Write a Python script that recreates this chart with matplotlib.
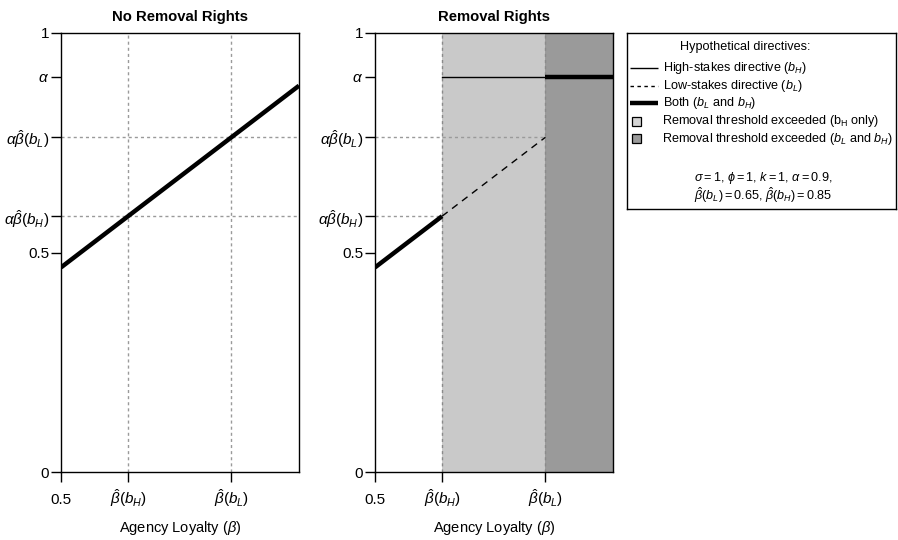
import numpy as np
import matplotlib
matplotlib.use("Agg")
import matplotlib.pyplot as plt
from matplotlib.patches import Rectangle

plt.rcParams['font.family'] = ['Liberation Sans', 'DejaVu Sans']
plt.rcParams['mathtext.fontset'] = 'custom'
plt.rcParams['mathtext.rm'] = 'Liberation Sans'
plt.rcParams['mathtext.it'] = 'Liberation Sans:italic'
plt.rcParams['mathtext.bf'] = 'Liberation Sans:bold'

# ---- data ----
alpha = 0.9
beta_lo = 0.5            # left end of x axis
beta_hi = 1.0            # right end of x axis
beta_hat_H = 0.641       # position of beta-hat(b_H) on x axis
beta_hat_L = 0.858       # position of beta-hat(b_L) on x axis
line_x = [0.5, 1.0]      # loyalty line endpoints
line_y = [0.466, 0.880]
ab_H = 0.583             # alpha*beta-hat(b_H)
ab_L = 0.763             # alpha*beta-hat(b_L)

x_ticks = [0.5, beta_hat_H, beta_hat_L]
x_ticklabels = ["0.5", r"$\hat{\beta}(b_H)$", r"$\hat{\beta}(b_L)$"]
y_ticks = [0, 0.5, ab_H, ab_L, alpha, 1]
y_ticklabels = ["0", "0.5", r"$\alpha\hat{\beta}(b_H)$", r"$\alpha\hat{\beta}(b_L)$",
                r"$\alpha$", "1"]

titles = ["No Removal Rights", "Removal Rights"]
xlabel = r"Agency Loyalty ($\beta$)"

light_gray = "#c9c9c9"
dark_gray = "#9a9a9a"
dot_color = "#9a9a9a"
dotted = (0, (2.2, 2.2))

W, H = 898, 540
fig = plt.figure(figsize=(W / 100, H / 100), dpi=100)

def px_axes(x0, y0, x1, y1):
    return fig.add_axes([x0 / W, 1 - y1 / H, (x1 - x0) / W, (y1 - y0) / H])

ax1 = px_axes(61, 33, 299, 472)
ax2 = px_axes(375, 33, 613, 472)

for ax, t in zip([ax1, ax2], titles):
    ax.set_xlim(beta_lo, beta_hi)
    ax.set_ylim(0, 1)
    ax.set_xticks(x_ticks)
    ax.set_xticklabels(x_ticklabels, fontsize=11)
    ax.set_yticks(y_ticks)
    ax.set_yticklabels(y_ticklabels, fontsize=11)
    ax.tick_params(axis='both', direction='out', length=7, width=1, pad=1.5)
    ax.tick_params(axis='x', pad=16)
    for lab in ax.get_xticklabels():
        lab.set_va('baseline')
    for s in ax.spines.values():
        s.set_linewidth(1.0)
    ax.set_title(t, fontsize=10.7, fontweight='bold', pad=9)
    ax.set_xlabel(xlabel, fontsize=10.5)
    ax.xaxis.set_label_coords(0.5, -0.127)
    ax.xaxis.label.set_va('center')

# ---- left panel ----
for xv in [beta_hat_H, beta_hat_L]:
    ax1.axvline(xv, color=dot_color, lw=1, ls=dotted, zorder=1)
for yv in [ab_H, ab_L]:
    ax1.axhline(yv, color=dot_color, lw=1, ls=dotted, zorder=1)
ax1.plot(line_x, line_y, color='black', lw=3.2, solid_capstyle='butt', zorder=3)

# ---- right panel ----
ax2.axvspan(beta_hat_H, beta_hat_L, color=light_gray, lw=0, zorder=0)
ax2.axvspan(beta_hat_L, beta_hi, color=dark_gray, lw=0, zorder=0)
for xv in [beta_hat_H, beta_hat_L]:
    ax2.axvline(xv, color="#8a8a8a", lw=1, ls=dotted, zorder=1)
ax2.plot([beta_lo, beta_hat_L], [ab_L, ab_L], color=dot_color, lw=1, ls=dotted, zorder=1)
ax2.plot([beta_lo, beta_hat_H], [ab_H, ab_H], color=dot_color, lw=1, ls=dotted, zorder=1)

seg1_x = [line_x[0], beta_hat_H]
seg1_y = list(np.interp(seg1_x, line_x, line_y))
seg2_x = [beta_hat_H, beta_hat_L]
seg2_y = list(np.interp(seg2_x, line_x, line_y))
ax2.plot(seg1_x, seg1_y, color='black', lw=3.2, solid_capstyle='butt', zorder=3)
ax2.plot(seg2_x, seg2_y, color='black', lw=1.0, ls=(0, (5, 4)), zorder=3)
ax2.plot([beta_hat_H, beta_hat_L], [alpha, alpha], color='black', lw=1.0, zorder=3)
ax2.plot([beta_hat_L, beta_hi], [alpha, alpha], color='black', lw=3.2,
         solid_capstyle='butt', zorder=3)

# ---- legend box ----
lg = px_axes(627, 33, 896, 209)
lg.set_xlim(0, 1)
lg.set_ylim(0, 1)
lg.set_xticks([])
lg.set_yticks([])
for s in lg.spines.values():
    s.set_linewidth(1.0)

fs = 9.1
lg.text(0.439, 0.920, "Hypothetical directives:", ha='center', va='center', fontsize=fs)
rows = [
    (0.801, dict(lw=1.0, ls='-'), r"High-stakes directive ($b_H$)"),
    (0.699, dict(lw=1.0, ls=(0, (2.5, 2.5))), r"Low-stakes directive ($b_L$)"),
    (0.602, dict(lw=3.2, ls='-'), r"Both ($b_L$ and $b_H$)"),
]
for y, style, txt in rows:
    lg.plot([0.011, 0.115], [y, y], color='black', solid_capstyle='butt', **style)
    lg.text(0.134, y, txt, ha='left', va='center', fontsize=fs)

boxes = [
    (0.500, "#d4d4d4", r"Removal threshold exceeded (b$_\mathrm{H}$ only)"),
    (0.398, dark_gray, r"Removal threshold exceeded ($b_L$ and $b_H$)"),
]
bw, bh = 9 / 269, 9 / 176
for y, c, txt in boxes:
    lg.add_patch(Rectangle((0.037 - bw / 2, y - bh / 2), bw, bh, facecolor=c,
                           edgecolor='black', lw=0.9))
    lg.text(0.130, y, txt, ha='left', va='center', fontsize=fs)

lg.text(0.249, 0.176, r"$\sigma = 1$, $\phi = 1$, $k = 1$, $\alpha = 0.9$,",
        ha='left', va='center', fontsize=fs)
lg.text(0.249, 0.080, r"$\hat{\beta}(b_L) = 0.65$, $\hat{\beta}(b_H) = 0.85$",
        ha='left', va='center', fontsize=fs)

fig.savefig("out.png", dpi=100)
